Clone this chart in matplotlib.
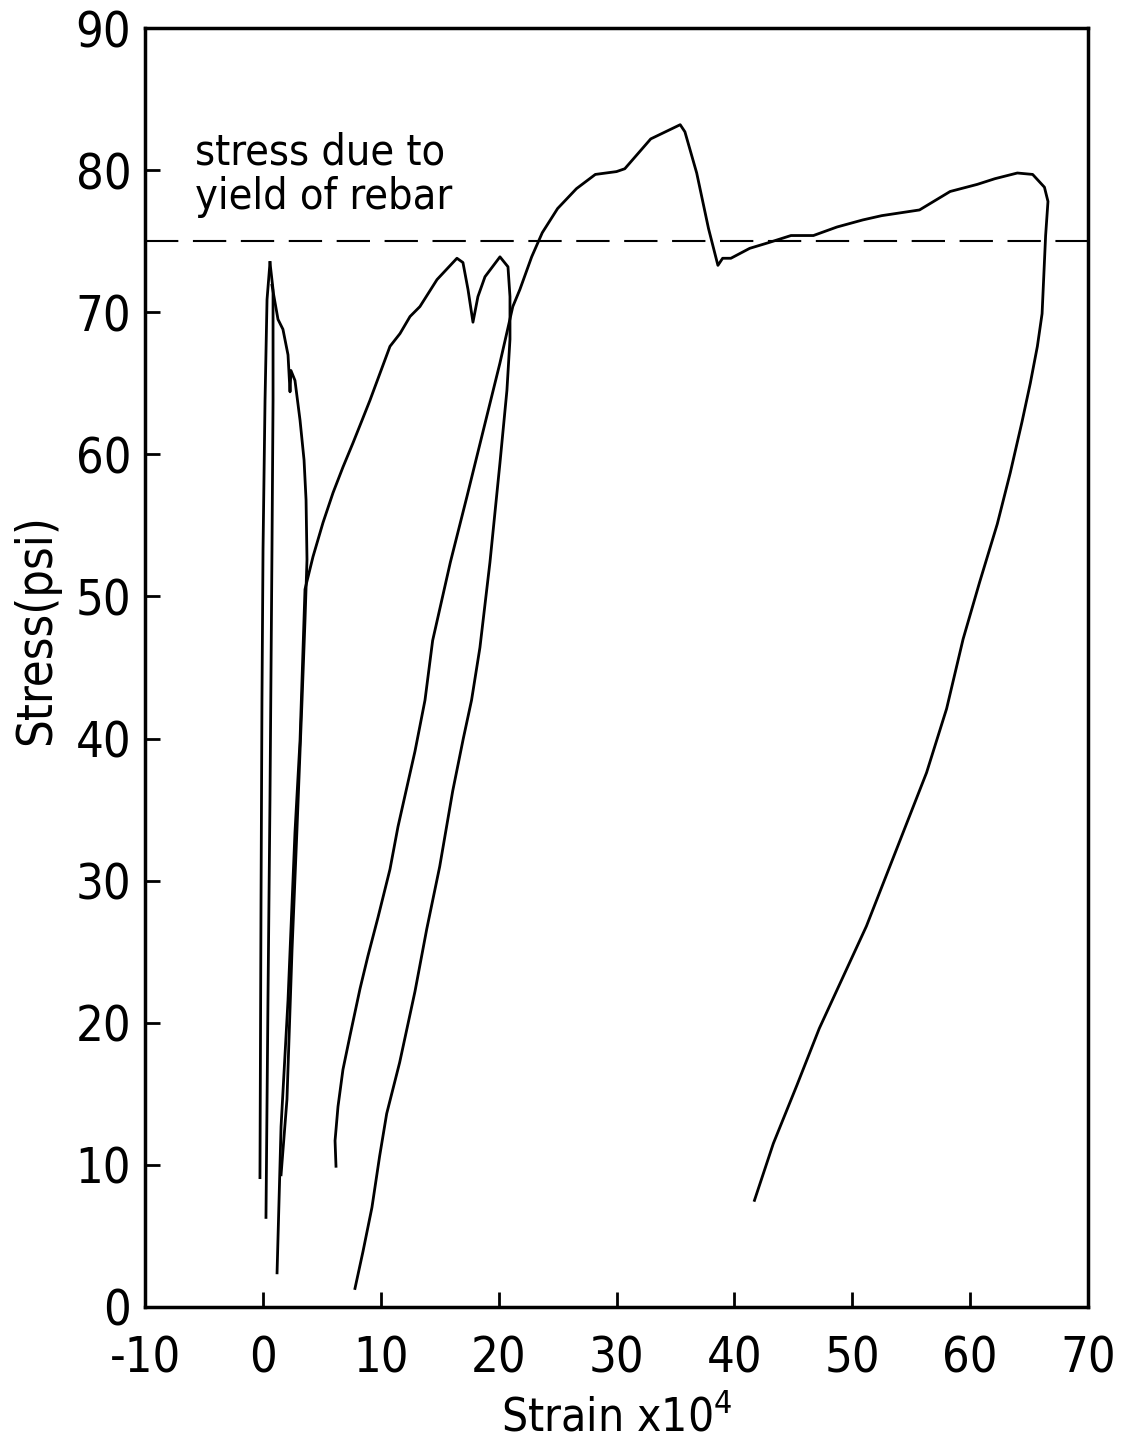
import matplotlib
matplotlib.use("Agg")
import matplotlib.pyplot as plt

plt.rcParams['font.family'] = ['DejaVu Sans']
plt.rcParams['font.stretch'] = 'condensed'
plt.rcParams['axes.unicode_minus'] = False

# first load branch near zero strain
load1_x = [-0.25, -0.16, -0.08, 0.01, 0.18, 0.35, 0.60]
load1_y = [9.1, 28.6, 42.7, 53.3, 63.8, 70.9, 73.5]

# first unload branch
unload1_x = [0.60, 0.86, 0.86, 0.77, 0.60, 0.43, 0.26]
unload1_y = [73.5, 71.6, 63.8, 53.3, 35.7, 21.6, 6.3]

# ragged descending branch after first peak
drop1_x = [0.77, 1.28, 1.70, 2.13, 2.30, 2.38, 2.72, 3.15, 3.49, 3.66, 3.74,
           3.57, 3.32, 2.89, 2.47, 2.04, 1.54]
drop1_y = [71.9, 69.5, 68.8, 67.0, 64.4, 65.9, 65.2, 62.4, 59.6, 56.8, 52.6,
           48.3, 42.7, 33.6, 25.1, 14.6, 9.3]

# reload, two small peaks, then unload to near zero
loop2_x = [1.20, 1.54, 2.13, 2.72, 3.15, 3.57, 4.25, 5.10, 5.95, 6.79, 7.64,
           8.41, 9.08, 9.93, 10.78, 11.63, 12.48, 13.32, 14.77, 16.46, 16.97,
           17.40, 17.82, 18.24, 18.84, 20.11, 20.79, 20.96, 20.96, 20.70,
           20.11, 19.26, 18.41, 17.70, 17.00, 16.10, 15.00, 13.90, 12.90,
           11.60, 10.50, 9.90, 9.25, 8.49, 7.81]
loop2_y = [2.4, 12.7, 21.6, 33.4, 39.9, 50.5, 52.8, 55.2, 57.3, 59.1, 60.8,
           62.4, 63.8, 65.7, 67.6, 68.5, 69.7, 70.4, 72.3, 73.8, 73.5,
           71.6, 69.3, 71.1, 72.5, 73.9, 73.2, 71.1, 68.1, 64.5,
           59.4, 52.4, 46.4, 42.7, 40.0, 36.3, 31.0, 26.6, 22.2,
           17.2, 13.6, 10.6, 7.0, 3.9, 1.3]

# last reload up past yield, plateau and unload
loop3_x = [6.20, 6.12, 6.37, 6.79, 7.39, 8.24, 8.91, 9.76, 10.78, 11.46,
           12.22, 12.90, 13.75, 14.40, 15.90, 17.30, 18.70, 20.10, 21.20,
           21.80, 22.80, 23.70, 25.00, 26.60, 28.20, 30.00, 30.70, 32.90,
           35.40, 35.80, 36.80, 37.80, 38.60, 39.00, 39.70, 41.30, 42.90,
           44.80, 46.70, 48.70, 50.90, 52.50, 54.10, 55.70, 56.70, 58.30,
           60.60, 62.10, 64.00, 65.30, 66.30, 66.60, 66.40, 66.10, 65.70,
           65.10, 64.40, 63.40, 62.30, 60.80, 59.40, 58.00, 56.30, 54.60,
           52.90, 51.20, 49.20, 47.20, 45.30, 43.30, 41.70]
loop3_y = [9.9, 11.7, 14.1, 16.7, 19.1, 22.4, 24.7, 27.4, 30.8, 33.8,
           36.6, 39.1, 42.7, 46.9, 52.4, 57.0, 61.7, 66.4, 70.4,
           71.6, 73.9, 75.6, 77.3, 78.7, 79.7, 79.9, 80.1, 82.2,
           83.2, 82.7, 79.8, 75.9, 73.3, 73.8, 73.8, 74.5, 74.9,
           75.4, 75.4, 76.0, 76.5, 76.8, 77.0, 77.2, 77.7, 78.5,
           79.0, 79.4, 79.8, 79.7, 78.8, 77.8, 75.4, 69.9, 67.6,
           65.0, 62.3, 58.7, 55.1, 51.0, 47.0, 42.1, 37.6, 34.0,
           30.4, 26.8, 23.2, 19.6, 15.6, 11.5, 7.5]

yield_stress = 75
x_ticks = [-10, 0, 10, 20, 30, 40, 50, 60, 70]
y_ticks = [0, 10, 20, 30, 40, 50, 60, 70, 80, 90]

fig = plt.figure(figsize=(11.26, 14.47), dpi=100)
ax = fig.add_axes([0.1288, 0.0968, 0.8375, 0.8838])

for xs, ys in [(load1_x, load1_y), (unload1_x, unload1_y), (drop1_x, drop1_y),
               (loop2_x, loop2_y), (loop3_x, loop3_y)]:
    ax.plot(xs, ys, color='black', lw=2.0, solid_joinstyle='round')

ax.axhline(yield_stress, color='black', lw=1.5, dashes=(16, 7))
ax.text(-5.8, 76.6, "stress due to\nyield of rebar", fontsize=31,
        ha='left', va='bottom', linespacing=1.1)

ax.set_xlim(-10, 70)
ax.set_ylim(0, 90)
ax.set_xticks(x_ticks)
ax.set_yticks(y_ticks)
ax.tick_params(direction='in', length=11, width=2, labelsize=35)
ax.tick_params(axis='x', pad=20)
ax.tick_params(axis='y', pad=10)
for s in ax.spines.values():
    s.set_linewidth(2.5)

ax.set_xlabel(r"Strain x10$^4$", fontsize=33, labelpad=10)
ax.set_ylabel("Stress(psi)", fontsize=35, labelpad=22)
ax.yaxis.set_label_coords(-0.09, 0.53)

fig.savefig("out.png", dpi=100)
